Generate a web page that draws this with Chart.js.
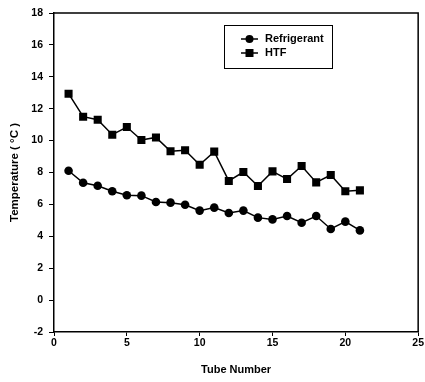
<!DOCTYPE html>
<html>
<head>
<meta charset="utf-8">
<script src="https://cdn.jsdelivr.net/npm/chart.js@4/dist/chart.umd.min.js"></script>
<style>
  html, body { margin: 0; padding: 0; background: #fff; }
  #wrap { width: 425px; height: 382px; }
</style>
</head>
<body>
<div id="wrap"><canvas id="c" width="425" height="382"></canvas></div>
<script>
const tubes = [1,2,3,4,5,6,7,8,9,10,11,12,13,14,15,16,17,18,19,20,21];
const refrigerant = [8.11,7.36,7.17,6.82,6.57,6.55,6.15,6.11,5.98,5.61,5.80,5.46,5.61,5.17,5.06,5.27,4.85,5.27,4.46,4.92,4.37];
const htf = [12.94,11.50,11.31,10.37,10.85,10.04,10.20,9.33,9.39,8.49,9.31,7.47,8.03,7.15,8.07,7.59,8.41,7.38,7.84,6.82,6.88];
const seriesNames = ['Refrigerant', 'HTF'];
const xTitle = 'Tube Number';
const yTitle = 'Temperature ( °C )';

const FONT = '"Liberation Sans", Arial, sans-serif';

const frameAndLegend = {
  id: 'frameAndLegend',
  afterDraw(chart) {
    const ctx = chart.ctx;
    const a = chart.chartArea;
    ctx.save();
    ctx.strokeStyle = '#000';
    ctx.lineWidth = 1.5;
    ctx.beginPath();
    ctx.moveTo(a.left, a.top);
    ctx.lineTo(a.right, a.top);
    ctx.lineTo(a.right, a.bottom);
    ctx.stroke();

    // legend box
    const bx = 224, by = 25, bw = 108, bh = 43;
    ctx.lineWidth = 1;
    ctx.strokeRect(bx + 0.5, by + 0.5, bw, bh);
    const rows = [by + 14, by + 28];
    chart.data.datasets.forEach((ds, i) => {
      const y = rows[i];
      ctx.lineWidth = 1.5;
      ctx.beginPath();
      ctx.moveTo(bx + 17, y);
      ctx.lineTo(bx + 34, y);
      ctx.stroke();
      ctx.fillStyle = '#000';
      const cx = bx + 25.5;
      if (ds.pointStyle === 'rect') {
        ctx.fillRect(cx - 4, y - 4, 8, 8);
      } else {
        ctx.beginPath();
        ctx.arc(cx, y, 4, 0, Math.PI * 2);
        ctx.fill();
      }
      ctx.font = 'bold 11px ' + FONT;
      ctx.textBaseline = 'middle';
      ctx.textAlign = 'left';
      ctx.fillText(ds.label, bx + 41, y);
    });
    ctx.restore();
  }
};

const tickFont = { family: FONT, size: 10.5, weight: 'bold' };

new Chart(document.getElementById('c'), {
  type: 'line',
  data: {
    datasets: [
      {
        label: seriesNames[0],
        data: tubes.map((t, i) => ({ x: t, y: refrigerant[i] })),
        borderColor: '#000', backgroundColor: '#000',
        pointBackgroundColor: '#000', pointBorderColor: '#000',
        borderWidth: 1.5, pointStyle: 'circle', pointRadius: 4.3, pointBorderWidth: 0
      },
      {
        label: seriesNames[1],
        data: tubes.map((t, i) => ({ x: t, y: htf[i] })),
        borderColor: '#000', backgroundColor: '#000',
        pointBackgroundColor: '#000', pointBorderColor: '#000',
        borderWidth: 1.5, pointStyle: 'rect', pointRadius: 5.7, pointBorderWidth: 0
      }
    ]
  },
  options: {
    responsive: false,
    animation: false,
    devicePixelRatio: 1,
    layout: { padding: { left: 0, right: 6, top: 13, bottom: 0 } },
    plugins: { legend: { display: false }, tooltip: { enabled: false } },
    scales: {
      x: {
        type: 'linear', min: 0, max: 25,
        ticks: { stepSize: 5, color: '#000', font: tickFont, padding: 1, maxRotation: 0 },
        grid: { display: true, drawOnChartArea: false, drawTicks: true, tickLength: 4, color: '#000', lineWidth: 1 },
        border: { display: true, color: '#000', width: 1.5 },
        title: { display: true, text: xTitle, color: '#000', font: { family: FONT, size: 11, weight: 'bold' }, padding: { top: 0, bottom: 5 } },
        afterFit(scale) { scale.height = 50; }
      },
      y: {
        type: 'linear', min: -2, max: 18,
        ticks: { stepSize: 2, color: '#000', font: tickFont, padding: 6 },
        grid: { display: true, drawOnChartArea: false, drawTicks: true, tickLength: 5, color: '#000', lineWidth: 1 },
        border: { display: true, color: '#000', width: 1.5 },
        title: { display: true, text: yTitle, color: '#000', font: { family: FONT, size: 11.5, weight: 'bold' }, padding: { top: 8, bottom: 0 } },
        afterFit(scale) { scale.width = 54; }
      }
    }
  },
  plugins: [frameAndLegend]
});
</script>
</body>
</html>
